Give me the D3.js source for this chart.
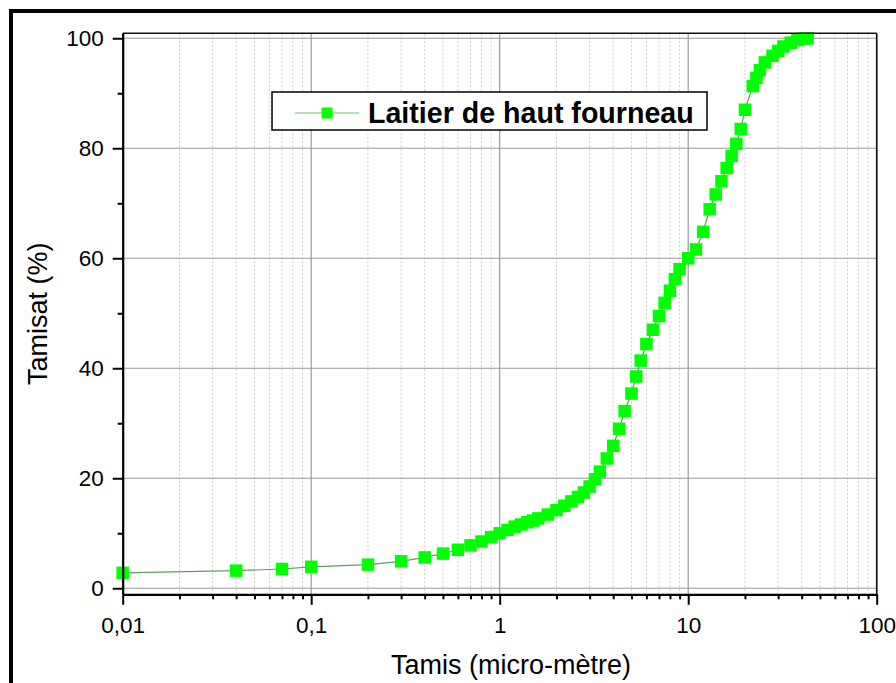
<!DOCTYPE html>
<html>
<head>
<meta charset="utf-8">
<script src="https://cdn.jsdelivr.net/npm/d3@7"></script>
<style>
  body { margin: 0; background: #fff; }
  svg { display: block; font-family: "Liberation Sans", Arial, sans-serif; }
</style>
</head>
<body>
<div id="chart"></div>
<script>
// Granulométrie du laitier de haut fourneau
const seriesName = "Laitier de haut fourneau";
const tamis = [0.01, 0.04, 0.07, 0.1, 0.2, 0.3, 0.4, 0.5, 0.6, 0.7, 0.8, 0.9, 1.0,
    1.1, 1.2, 1.3, 1.4, 1.5, 1.6, 1.8, 2.0, 2.2, 2.4, 2.6, 2.8, 3.0, 3.2, 3.4, 3.7,
    4.0, 4.3, 4.6, 5.0, 5.3, 5.6, 6.0, 6.5, 7.0, 7.5, 8.0, 8.5, 9.0, 10, 11, 12, 13,
    14, 15, 16, 17, 18, 19, 20, 22, 23, 24, 25.5, 28, 30, 32, 35, 38, 41, 43];
const tamisat = [2.8, 3.2, 3.5, 3.9, 4.3, 4.9, 5.6, 6.3, 7.0, 7.8, 8.5, 9.3, 10.0,
    10.6, 11.2, 11.6, 12.0, 12.3, 12.7, 13.4, 14.2, 15.0, 15.8, 16.6, 17.4, 18.5, 19.8, 21.2, 23.6,
    25.9, 29.0, 32.2, 35.4, 38.5, 41.4, 44.4, 47.0, 49.5, 51.9, 54.1, 56.2, 58.0, 60.0, 61.6, 64.8, 68.9,
    71.6, 74.0, 76.4, 78.6, 80.8, 83.5, 87.0, 91.3, 92.8, 94.2, 95.6, 96.8, 97.7, 98.5, 99.2, 99.7, 99.95, 100];
const xMajorTicks = [0.01, 0.1, 1, 10, 100];
const xTickLabels = ["0,01", "0,1", "1", "10", "100"];
const yMajorTicks = [0, 20, 40, 60, 80, 100];
const yMinorTicks = [10, 30, 50, 70, 90];

const width = 896, height = 683;
const pLeft = 122.7, pRight = 876.7, pTop = 33.3, pBottom = 594.3;

const svg = d3.select("#chart").append("svg")
    .attr("width", width)
    .attr("height", height);

// Cadre extérieur
svg.append("rect")
    .attr("x", 11).attr("y", 11)
    .attr("width", width + 20).attr("height", height + 20)
    .attr("fill", "none")
    .attr("stroke", "#000")
    .attr("stroke-width", 4);

// Echelles
const x = d3.scaleLog().domain([0.01, 100]).range([pLeft, pRight]);
const y = d3.scaleLinear().domain([-1.1, 100.9]).range([pBottom, pTop]);

// Graduations mineures (2..9 par décade)
const xMinor = [];
xMajorTicks.slice(0, -1).forEach(d => {
    for (let k = 2; k <= 9; k++) xMinor.push(+(d * k).toPrecision(3));
});

// Grille
const grid = svg.append("g");
grid.selectAll(".gx-minor")
    .data(xMinor)
    .join("line")
    .attr("x1", d => x(d)).attr("x2", d => x(d))
    .attr("y1", pTop).attr("y2", pBottom)
    .attr("stroke", "#cccccc")
    .attr("stroke-width", 1)
    .attr("stroke-dasharray", "2 2");
grid.selectAll(".gx-major")
    .data(xMajorTicks)
    .join("line")
    .attr("x1", d => x(d)).attr("x2", d => x(d))
    .attr("y1", pTop).attr("y2", pBottom)
    .attr("stroke", "#9a9a9a")
    .attr("stroke-width", 1.2);
grid.selectAll(".gy-major")
    .data(yMajorTicks)
    .join("line")
    .attr("x1", pLeft).attr("x2", pRight)
    .attr("y1", d => y(d)).attr("y2", d => y(d))
    .attr("stroke", "#9a9a9a")
    .attr("stroke-width", 1.2);

// Données
const data = tamis.map((t, i) => ({x: t, y: tamisat[i]}));

const line = d3.line()
    .x(d => x(d.x))
    .y(d => y(d.y));

svg.append("path")
    .datum(data)
    .attr("d", line)
    .attr("fill", "none")
    .attr("stroke", "#5f9f5f")
    .attr("stroke-width", 1.2);

const ms = 12.5;
svg.selectAll(".pt")
    .data(data)
    .join("rect")
    .attr("x", d => x(d.x) - ms / 2)
    .attr("y", d => y(d.y) - ms / 2)
    .attr("width", ms).attr("height", ms)
    .attr("fill", "#00ff00");

// Légende
const lg = svg.append("g");
lg.append("rect")
    .attr("x", 272).attr("y", 92)
    .attr("width", 435).attr("height", 38)
    .attr("fill", "#fff")
    .attr("stroke", "#000")
    .attr("stroke-width", 1.5);
lg.append("line")
    .attr("x1", 295).attr("x2", 359)
    .attr("y1", 113).attr("y2", 113)
    .attr("stroke", "#66cc66")
    .attr("stroke-width", 1.2);
lg.append("rect")
    .attr("x", 327 - 5.5).attr("y", 113 - 5.5)
    .attr("width", 11).attr("height", 11)
    .attr("fill", "#00ff00");
lg.append("text")
    .attr("x", 368).attr("y", 123)
    .attr("font-size", 28.6)
    .attr("font-weight", "bold")
    .attr("fill", "#000")
    .text(seriesName);

// Cadre du graphique (haut et droite)
svg.append("line")
    .attr("x1", pLeft).attr("x2", pRight)
    .attr("y1", pTop).attr("y2", pTop)
    .attr("stroke", "#111").attr("stroke-width", 1.6);
svg.append("line")
    .attr("x1", pRight).attr("x2", pRight)
    .attr("y1", pTop).attr("y2", pBottom)
    .attr("stroke", "#111").attr("stroke-width", 1.6);

// Axe Y
svg.append("g")
    .attr("transform", `translate(${pLeft},0)`)
    .call(d3.axisLeft(y).tickValues(yMajorTicks).tickSize(10).tickSizeOuter(0).tickPadding(9));
svg.append("g")
    .attr("transform", `translate(${pLeft},0)`)
    .call(d3.axisLeft(y).tickValues(yMinorTicks).tickSize(5).tickSizeOuter(0).tickFormat(""))
    .select(".domain").remove();

// Axe X
svg.append("g")
    .attr("transform", `translate(0,${pBottom})`)
    .call(d3.axisBottom(x).tickValues(xMajorTicks).tickSize(10.5).tickSizeOuter(0).tickPadding(12)
        .tickFormat((d, i) => xTickLabels[i]));
svg.append("g")
    .attr("transform", `translate(0,${pBottom})`)
    .call(d3.axisBottom(x).tickValues(xMinor).tickSize(5).tickSizeOuter(0).tickFormat(""))
    .select(".domain").remove();

svg.selectAll(".domain").attr("stroke", "#000").attr("stroke-width", 2.2);
svg.selectAll(".tick line").attr("stroke", "#000").attr("stroke-width", 2);
svg.selectAll(".tick text")
    .attr("font-family", "'Liberation Sans', Arial, sans-serif")
    .attr("font-size", 22.5)
    .attr("fill", "#000");

// Titres des axes
svg.append("text")
    .attr("x", 511).attr("y", 674)
    .attr("text-anchor", "middle")
    .attr("font-size", 27)
    .text("Tamis (micro-mètre)");
svg.append("text")
    .attr("transform", `translate(47,${(pTop + pBottom) / 2}) rotate(-90)`)
    .attr("text-anchor", "middle")
    .attr("font-size", 27)
    .text("Tamisat (%)");
</script>
</body>
</html>
